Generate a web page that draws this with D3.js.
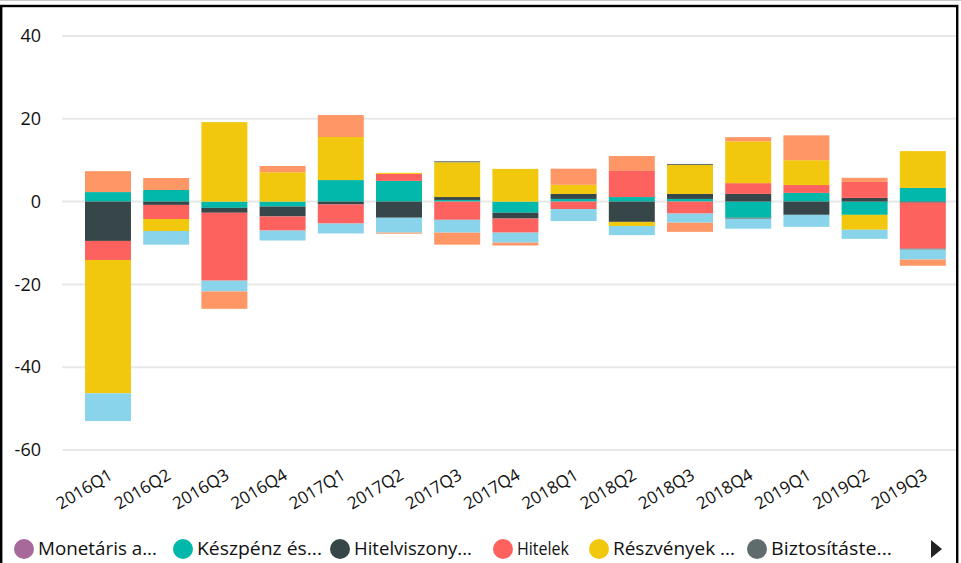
<!DOCTYPE html>
<html>
<head>
<meta charset="utf-8">
<script src="https://cdn.jsdelivr.net/npm/d3@7"></script>
<style>
  html, body { margin: 0; padding: 0; background: #fff; }
  svg { display: block; }
</style>
</head>
<body>
<svg id="chart" width="961" height="563"></svg>
<script>
// ---------- data ----------
const categories = ["2016Q1","2016Q2","2016Q3","2016Q4","2017Q1","2017Q2","2017Q3","2017Q4",
                    "2018Q1","2018Q2","2018Q3","2018Q4","2019Q1","2019Q2","2019Q3"];
const seriesNames = ["Monetáris arany és SDR","Készpénz és betétek","Hitelviszonyt megtestesítő értékpapírok",
                     "Hitelek","Részvények és egyéb részesedések","Biztosítástechnikai tartalékok",
                     "Pénzügyi derivatívák","Egyéb követelések"];
const legendLabels = ["Monetáris a...","Készpénz és...","Hitelviszony...","Hitelek","Részvények ...","Biztosításte..."];
const monetaris   = [0,0,0,0,0,0,0,0,0,0,0,0,0,0,0];
const keszpenz    = [2.3, 2.8, -1.5, -1.2, 5.2, 5.0, 0.4, -2.7, 0.65, 1.1, 0.65, -3.9, 2.1, -3.2, 3.3];
const hitelviszony= [-9.5, -0.8, -1.2, -2.4, -0.7, -3.9, 0.7, -1.4, 1.2, -4.9, 1.2, 1.86, -3.2, 0.9, -0.25];
const hitelek     = [-4.6, -3.4, -16.4, -3.4, -4.6, 1.7, -4.4, -3.4, -1.8, 6.3, -2.9, 2.6, 1.9, 3.85, -11.1];
const reszvenyek  = [-32.2, -2.9, 19.2, 7.1, 10.4, 0.25, 8.4, 7.9, 2.2, -1.0, 7.0, 10.1, 6.0, -3.6, 8.9];
const biztositas  = [0, 0, 0, 0, 0, 0, 0.25, 0, 0, 0, 0.25, -0.25, 0, 0, -0.25];
const derivativak = [-6.7, -3.3, -2.6, -2.4, -2.4, -3.6, -3.1, -2.4, -2.9, -2.2, -2.2, -2.4, -2.9, -2.2, -2.4];
const egyeb       = [5.05, 2.9, -4.2, 1.5, 5.3, -0.25, -2.9, -0.7, 3.9, 3.6, -2.2, 1.0, 6.0, 1.0, -1.5];
const yTicks = [-60, -40, -20, 0, 20, 40];

// ---------- styles ----------
const colors = ["#A66999","#01B8AA","#374649","#FD625E","#F2C80F","#5F6B6D","#8AD4EB","#FE9666"];
const seriesValues = [monetaris, keszpenz, hitelviszony, hitelek, reszvenyek, biztositas, derivativak, egyeb];

const rows = categories.map((c, i) => {
  const r = { cat: c };
  seriesNames.forEach((s, k) => r[s] = seriesValues[k][i]);
  return r;
});

const svg = d3.select("#chart");

// frame
svg.append("line").attr("x1", 0).attr("x2", 961).attr("y1", 0.5).attr("y2", 0.5)
   .attr("stroke", "#c8c8c8").attr("stroke-width", 1);
svg.append("rect").attr("x", 1.2).attr("y", 6).attr("width", 956).attr("height", 600)
   .attr("fill", "none").attr("stroke", "#000").attr("stroke-width", 2.4);

const y = d3.scaleLinear().domain([-60, 40]).range([450, 36]);
const x = d3.scaleBand().domain(categories).range([62, 968.8])
            .paddingInner(0.21).paddingOuter(0.395);

// gridlines
svg.append("g").selectAll("line").data(yTicks).join("line")
  .attr("x1", 62).attr("x2", 956)
  .attr("y1", d => y(d)).attr("y2", d => y(d))
  .attr("stroke", "#e8e8e8").attr("stroke-width", 2);

// y axis
const yAxis = svg.append("g").attr("transform", "translate(62,0)")
  .call(d3.axisLeft(y).tickValues(yTicks).tickFormat(d => String(d)).tickSize(0).tickPadding(21));
yAxis.select(".domain").remove();
yAxis.selectAll("text").attr("font-family", "'Open Sans', sans-serif")
  .attr("font-size", 18).attr("fill", "#111");

// stacked bars
const stack = d3.stack().keys(seriesNames).offset(d3.stackOffsetDiverging).order(d3.stackOrderNone);
const layers = stack(rows);
svg.append("g").selectAll("g").data(layers).join("g")
  .attr("fill", (d, i) => colors[i])
  .selectAll("rect").data(d => d).join("rect")
  .attr("x", d => x(d.data.cat))
  .attr("width", x.bandwidth())
  .attr("y", d => y(Math.max(d[0], d[1])))
  .attr("height", d => Math.abs(y(d[0]) - y(d[1])));

// x axis
const xAxis = svg.append("g").attr("transform", "translate(0,465)")
  .call(d3.axisBottom(x).tickSize(0).tickPadding(0));
xAxis.select(".domain").remove();
xAxis.selectAll("text")
  .attr("font-family", "'Open Sans', sans-serif")
  .attr("font-size", 17).attr("fill", "#111")
  .attr("text-anchor", "end")
  .attr("dy", "0.9em")
  .attr("transform", "translate(-2,0) rotate(-31)");

// legend
const legendX = [24, 183, 340, 503, 599, 757];
const legendW = [119, 125, 118, 52, 122, 121];
const lg = svg.append("g").attr("transform", "translate(0,549)");
legendLabels.forEach((t, i) => {
  lg.append("circle").attr("cx", legendX[i]).attr("cy", 0).attr("r", 10).attr("fill", colors[i]);
  lg.append("text").attr("x", legendX[i] + 14).attr("y", 0).attr("dy", "0.36em")
    .attr("font-family", "'Open Sans', sans-serif").attr("font-size", 18).attr("fill", "#111")
    .attr("textLength", legendW[i]).attr("lengthAdjust", "spacingAndGlyphs")
    .text(t);
});
lg.append("path").attr("d", d3.line()([[931, -9], [942, 0], [931, 9]]) + "Z").attr("fill", "#222");
</script>
</body>
</html>
